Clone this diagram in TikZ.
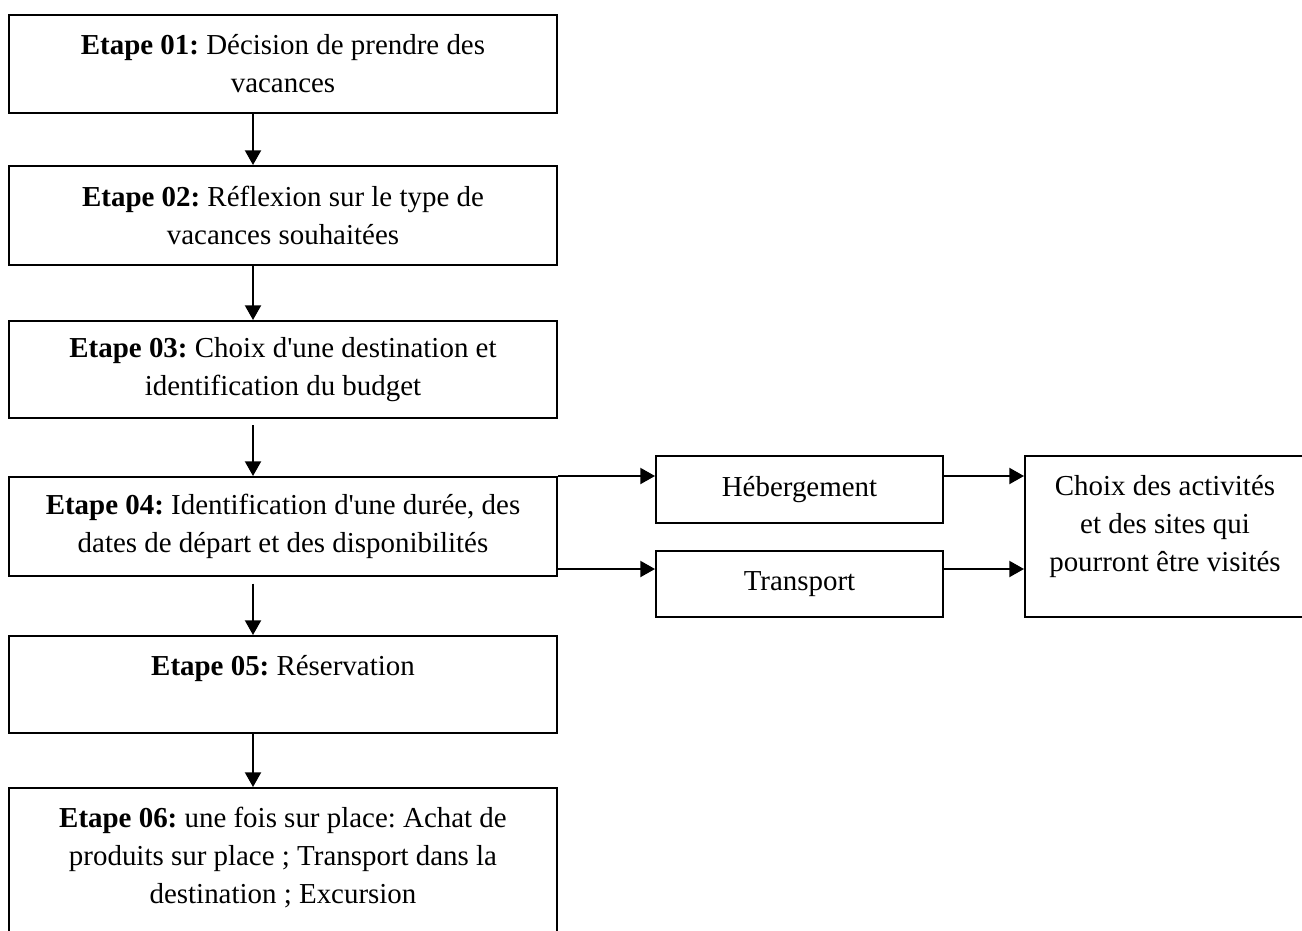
\documentclass[tikz,border=0pt]{standalone}
\usepackage{fontspec}
\setmainfont{Liberation Serif}[Ligatures=TeXOff]
\usetikzlibrary{arrows.meta,calc}
\frenchspacing
\begin{document}
\begin{tikzpicture}[x=0.75pt,y=-0.75pt,
  txt/.style={font=\fontsize{21.7}{28.5}\selectfont,align=center,inner sep=0pt},
  box/.style={txt,draw,line width=1.5pt,minimum width=411pt},
  sbox/.style={txt,draw,line width=1.5pt,minimum width=215.25pt},
  arr/.style={line width=1.5pt,-{Triangle[length=11pt,width=12pt]}}]
\clip (0,0) rectangle (1302,931);
\fill[white] (0,0) rectangle (1302,931);
\node[box,minimum height=73.5pt] (e1) at (283,64) {\textbf{Etape 01:} Décision de prendre des\\vacances};
\node[box,minimum height=74.25pt] (e2) at (283,215.5) {\textbf{Etape 02:} Réflexion sur le type de\\vacances souhaitées};
\node[box,minimum height=72.75pt] (e3) at (283,369.5) {\textbf{Etape 03:} Choix d'une destination et\\identification du budget};
\node[box,minimum height=74.25pt] (e4) at (283,526.5) {\textbf{Etape 04:} Identification d'une durée, des\\dates de départ et des disponibilités};
\node[box,minimum height=72.75pt] (e5) at (283,684.5) {\textbf{Etape 05:} Réservation\\\mbox{}};
\node[box,minimum height=129pt] (e6) at (283,874) {\textbf{Etape 06:} une fois sur place: Achat de\\produits sur place ; Transport dans la\\destination ; Excursion\\\mbox{}};
\node[sbox,minimum height=50.25pt] (heb) at (799.5,489.5) {Hébergement};
\node[sbox,minimum height=49.5pt] (tr) at (799.5,584) {Transport};
\node[draw,line width=1.5pt,minimum width=209.25pt,minimum height=120.75pt,inner sep=0pt] (ch) at (1164.5,536.5) {};
\node[txt] (chtext) at (1165,527) {Choix des activités\\et des sites qui\\pourront être visités};
\coordinate (ax) at (253,0);
\coordinate (t2) at ($(e4.south east)+(0,-8)$);
\draw[arr] (e1.south -| ax) -- (e2.north -| ax);
\draw[arr] (e2.south -| ax) -- (e3.north -| ax);
\draw[arr,shorten <=4.5pt] (e3.south -| ax) -- (e4.north -| ax);
\draw[arr,shorten <=5pt] (e4.south -| ax) -- (e5.north -| ax);
\draw[arr] (e5.south -| ax) -- (e6.north -| ax);
\draw[arr] (e4.north east) -- (e4.north east -| heb.west);
\draw[arr] (t2) -- (t2 -| tr.west);
\draw[arr] (heb.east |- e4.north east) -- (ch.west |- e4.north east);
\draw[arr] (tr.east |- t2) -- (ch.west |- t2);
\end{tikzpicture}
\end{document}
